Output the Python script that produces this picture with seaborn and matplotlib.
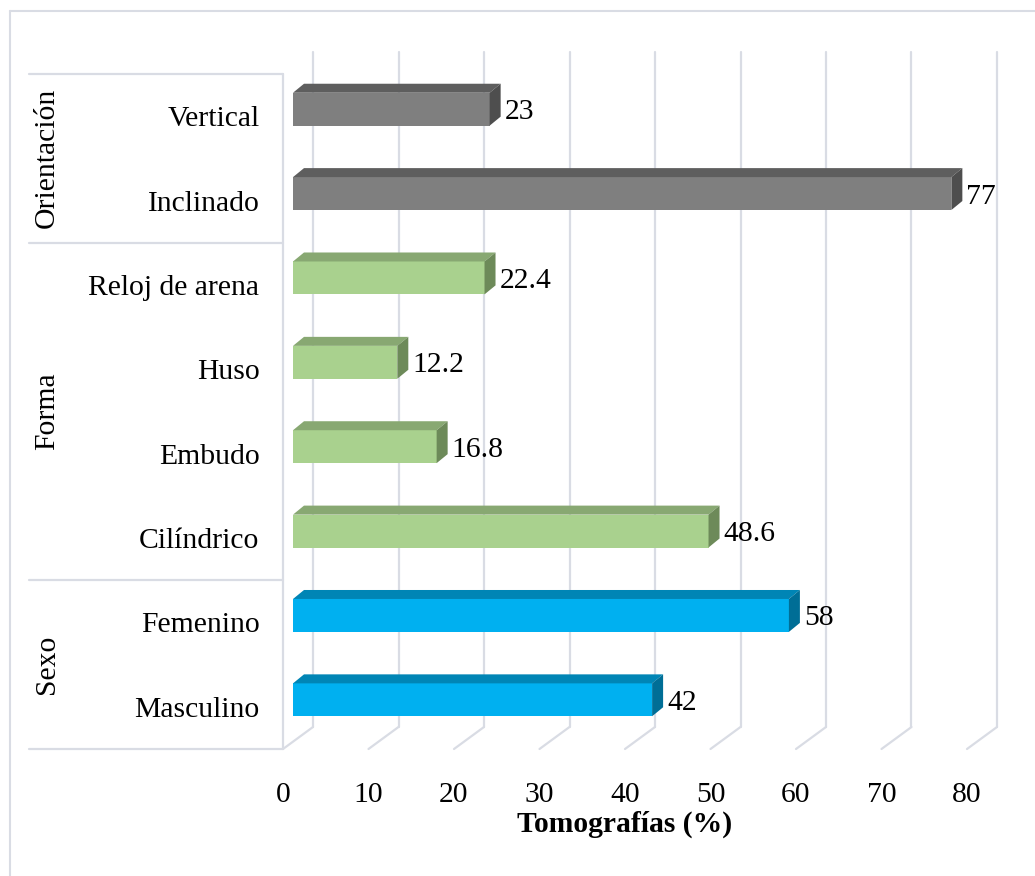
# -*- coding: utf-8 -*-
import numpy as np
import pandas as pd
import seaborn as sns
import matplotlib
matplotlib.use('Agg')
import matplotlib.pyplot as plt
import matplotlib.transforms as mtransforms
from matplotlib.patches import Polygon

# datos
categorias = ['Vertical', 'Inclinado', 'Reloj de arena', 'Huso', 'Embudo',
              'Cilíndrico', 'Femenino', 'Masculino']
valores = [23, 77, 22.4, 12.2, 16.8, 48.6, 58, 42]
grupos = ['Orientación', 'Orientación', 'Forma', 'Forma', 'Forma', 'Forma',
          'Sexo', 'Sexo']
ticks_x = [0, 10, 20, 30, 40, 50, 60, 70, 80]
titulo_x = 'Tomografías (%)'

# colores: frente, arriba, lado
col_grupo = {
    'Orientación': ('#7F7F7F', '#5E5E5E', '#4E4E4E'),
    'Forma': ('#A9D18E', '#88A872', '#6D8A59'),
    'Sexo': ('#00B0F0', '#0085B5', '#006E96'),
}
gris = '#D9DCE4'

sns.set_style('white')
plt.rcParams['font.family'] = ['Liberation Serif', 'DejaVu Serif']
plt.rcParams['text.color'] = 'black'
plt.rcParams['axes.labelcolor'] = 'black'
plt.rcParams['xtick.color'] = 'black'
plt.rcParams['ytick.color'] = 'black'
fs = 21.3

DPI = 100
W, H = 1035, 876
fig = plt.figure(figsize=(W / DPI, H / DPI), dpi=DPI)
# plano frontal: x 283->967 px, y 74->749 px (desde arriba)
ax = fig.add_axes([283 / W, (H - 749) / H, 684 / W, 675 / H])

df = pd.DataFrame({'categoria': categorias, 'valor': valores, 'grupo': grupos})
paleta = {c: col_grupo[g][0] for c, g in zip(categorias, grupos)}
sns.barplot(data=df, x='valor', y='categoria', hue='categoria', palette=paleta,
            legend=False, width=0.39, orient='h', ax=ax, saturation=1,
            edgecolor='none', zorder=3)
barras = list(ax.patches)

ax.set_xlim(0, 80)
ax.set_ylim(len(categorias) - 0.5, -0.5)
for s in ax.spines.values():
    s.set_visible(False)

# desplazamientos de profundidad (px)
dxf, dyf = 10, 7      # frente de la barra
dxb, dyb = 11, 9      # fondo de la barra respecto al frente
dxw, dyw = 30, 22     # pared del fondo

ident = mtransforms.IdentityTransform()

# rejilla del fondo y del suelo
for t in ticks_x:
    xb, yb = ax.transData.transform((t, len(categorias) - 0.5))
    _, yt = ax.transData.transform((t, -0.5))
    ax.add_line(plt.Line2D([xb + dxw, xb + dxw], [yb + dyw, yt + dyw],
                           transform=ident, color=gris, lw=1.6, zorder=0,
                           clip_on=False))
    ax.add_line(plt.Line2D([xb, xb + dxw], [yb, yb + dyw],
                           transform=ident, color=gris, lw=1.6, zorder=0,
                           clip_on=False))

# eje de categorías y separadores de grupo
ax.plot([0, 0], [-0.5, len(categorias) - 0.5], color=gris, lw=1.6,
        clip_on=False, zorder=1)
cortes = [-0.5] + [i + 0.5 for i in range(len(grupos) - 1) if grupos[i] != grupos[i + 1]] \
    + [len(categorias) - 0.5]
trans_sep = mtransforms.blended_transform_factory(ax.transAxes, ax.transData)
for c in cortes:
    ax.plot([(29 - 283) / 684, 0], [c, c], transform=trans_sep, color=gris,
            lw=1.6, clip_on=False, zorder=1)

# barras 3D
desplaza = ax.transData + mtransforms.Affine2D().translate(dxf, dyf)
for p in barras:
    idx = int(round(p.get_y() + p.get_height() / 2))
    g = grupos[idx]
    frente, arriba, lado = col_grupo[g]
    p.set_transform(desplaza)
    p.set_clip_on(False)
    (x0, y0), (x1, y1) = desplaza.transform(
        [(p.get_x(), p.get_y() + p.get_height()), (p.get_x() + p.get_width(), p.get_y())])
    ytop, ybot = max(y0, y1), min(y0, y1)
    sup = Polygon([(x0, ytop), (x1, ytop), (x1 + dxb, ytop + dyb), (x0 + dxb, ytop + dyb)],
                  closed=True, transform=ident, facecolor=arriba, edgecolor='none',
                  zorder=3, clip_on=False)
    lat = Polygon([(x1, ybot), (x1, ytop), (x1 + dxb, ytop + dyb), (x1 + dxb, ybot + dyb)],
                  closed=True, transform=ident, facecolor=lado, edgecolor='none',
                  zorder=3, clip_on=False)
    ax.add_patch(sup)
    ax.add_patch(lat)
    v = valores[idx]
    txt = '%d' % v if float(v).is_integer() else '%.1f' % v
    ax.text(x1 + dxb + 4, (ytop + ybot) / 2 - 3, txt, transform=ident, fontsize=fs,
            ha='left', va='center', color='black', zorder=4)

# etiquetas
ax.set_xticks(ticks_x)
ax.set_xticklabels([str(t) for t in ticks_x])
ax.tick_params(axis='x', length=0, pad=24, labelsize=fs)
ax.tick_params(axis='y', length=0, pad=17, labelsize=fs)
ax.set_ylabel('')
ax.set_xlabel(titulo_x, fontsize=fs, fontweight='bold', labelpad=2)

# nombres de grupo
trans_g = mtransforms.blended_transform_factory(fig.transFigure, ax.transData)
vistos = []
for g in grupos:
    if g not in vistos:
        vistos.append(g)
for g in vistos:
    pos = [i for i, gg in enumerate(grupos) if gg == g]
    ax.text(47 / W, np.mean(pos), g, transform=trans_g, rotation=90,
            fontsize=fs, ha='center', va='center')

# borde del gráfico
fig.add_artist(plt.Line2D([10 / W, 10 / W], [0, (H - 11) / H], color=gris, lw=1.5))
fig.add_artist(plt.Line2D([10 / W, 1], [(H - 11) / H, (H - 11) / H], color=gris, lw=1.5))

fig.savefig('out.png', dpi=DPI)
